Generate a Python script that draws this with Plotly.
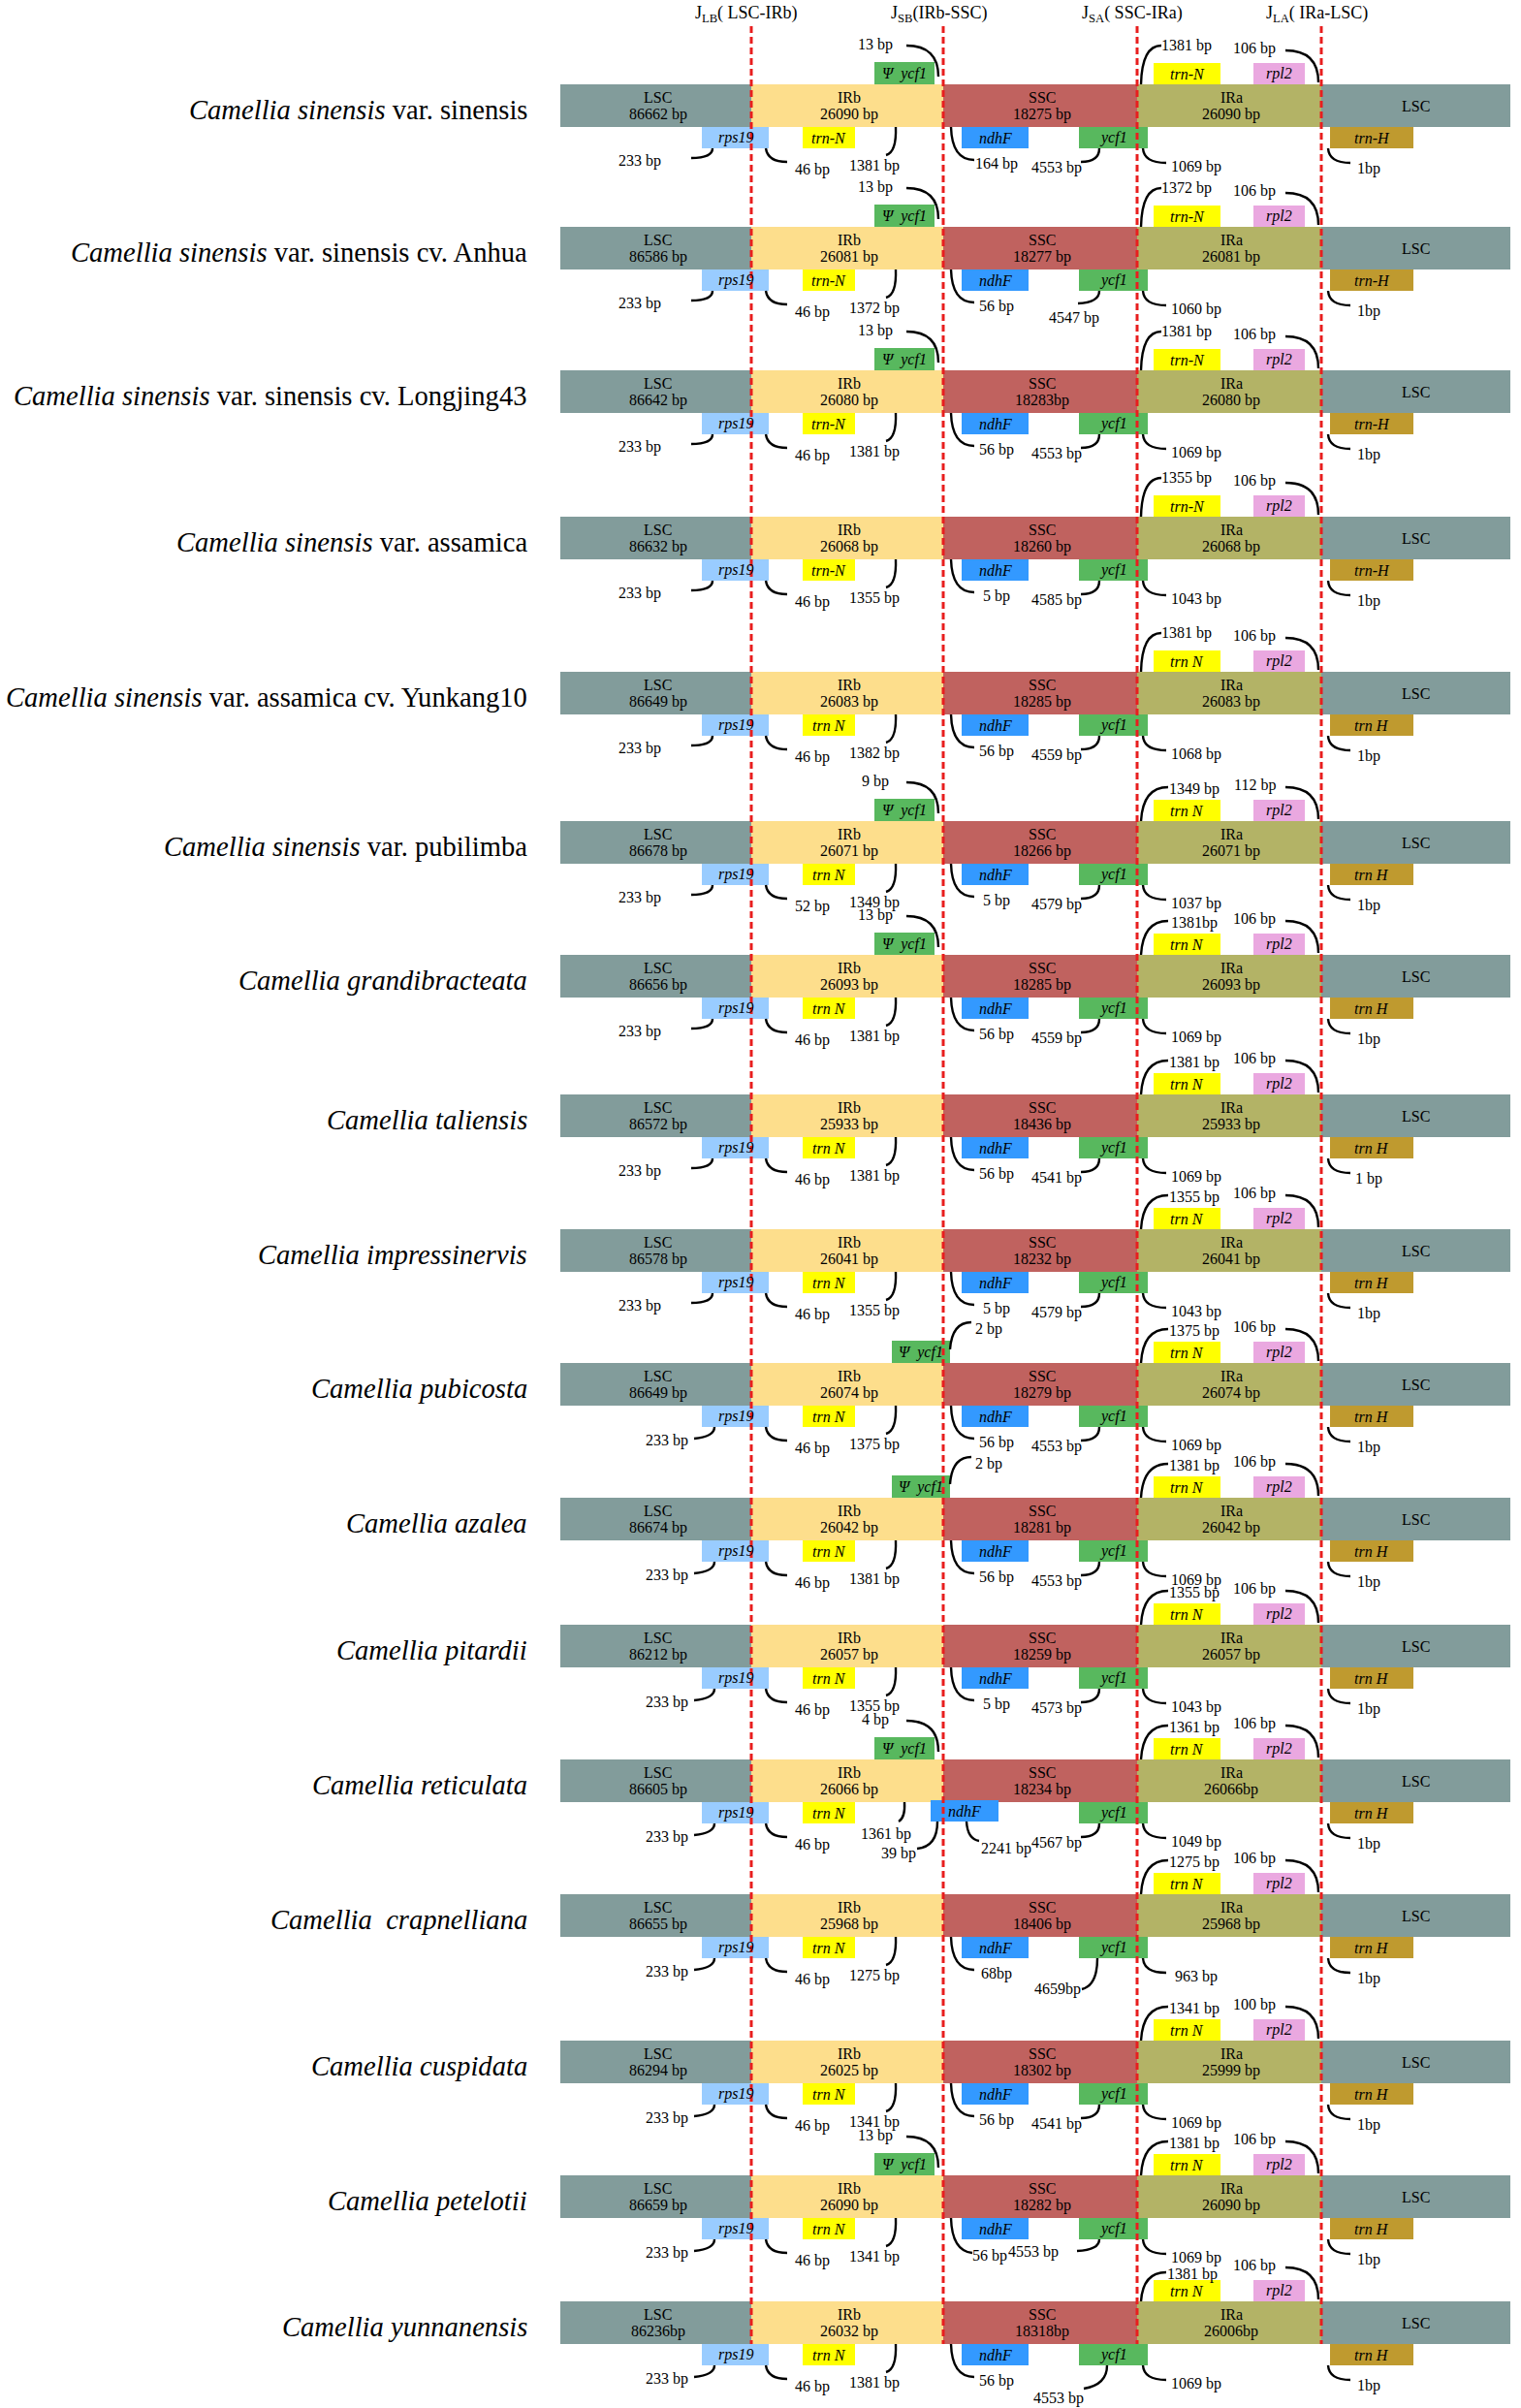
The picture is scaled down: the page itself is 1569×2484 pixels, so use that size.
import plotly.graph_objects as go

# ---------------- data ----------------
species = [
    "<i>Camellia sinensis</i> var. sinensis",
    "<i>Camellia sinensis</i> var. sinensis cv. Anhua",
    "<i>Camellia sinensis</i> var. sinensis cv. Longjing43",
    "<i>Camellia sinensis</i> var. assamica",
    "<i>Camellia sinensis</i> var. assamica cv. Yunkang10",
    "<i>Camellia sinensis</i> var. pubilimba",
    "<i>Camellia grandibracteata</i>",
    "<i>Camellia taliensis</i>",
    "<i>Camellia impressinervis</i>",
    "<i>Camellia pubicosta</i>",
    "<i>Camellia azalea</i>",
    "<i>Camellia pitardii</i>",
    "<i>Camellia reticulata</i>",
    "<i>Camellia\u00a0 crapnelliana</i>",
    "<i>Camellia cuspidata</i>",
    "<i>Camellia petelotii</i>",
    "<i>Camellia yunnanensis</i>",
]
lsc_bp = [86662, 86586, 86642, 86632, 86649, 86678, 86656, 86572, 86578, 86649, 86674, 86212, 86605, 86655, 86294, 86659, 86236]
irb_bp = [26090, 26081, 26080, 26068, 26083, 26071, 26093, 25933, 26041, 26074, 26042, 26057, 26066, 25968, 26025, 26090, 26032]
ssc_bp = [18275, 18277, 18283, 18260, 18285, 18266, 18285, 18436, 18232, 18279, 18281, 18259, 18234, 18406, 18302, 18282, 18318]
ira_bp = [26090, 26081, 26080, 26068, 26083, 26071, 26093, 25933, 26041, 26074, 26042, 26057, 26066, 25968, 25999, 26090, 26006]

psi_ycf1_bp = [13, 13, 13, None, None, 9, 13, None, None, 2, 2, None, 4, None, None, 13, None]
trnN_top_bp = [1381, 1372, 1381, 1355, 1381, 1349, 1381, 1381, 1355, 1375, 1381, 1355, 1361, 1275, 1341, 1381, 1381]
rpl2_bp = [106, 106, 106, 106, 106, 112, 106, 106, 106, 106, 106, 106, 106, 106, 100, 106, 106]
rps19_lsc_bp = [233, 233, 233, 233, 233, 233, 233, 233, 233, 233, 233, 233, 233, 233, 233, 233, 233]
rps19_ir_bp = [46, 46, 46, 46, 46, 52, 46, 46, 46, 46, 46, 46, 46, 46, 46, 46, 46]
trnN_low_bp = [1381, 1372, 1381, 1355, 1382, 1349, 1381, 1381, 1355, 1375, 1381, 1355, 1361, 1275, 1341, 1341, 1381]
ndhF_bp = [164, 56, 56, 5, 56, 5, 56, 56, 5, 56, 56, 5, 39, 68, 56, 56, 56]
ndhF_ssc_bp = [None, None, None, None, None, None, None, None, None, None, None, None, 2241, None, None, None, None]
ycf1_ssc_bp = [4553, 4547, 4553, 4585, 4559, 4579, 4559, 4541, 4579, 4553, 4553, 4573, 4567, 4659, 4541, 4553, 4553]
ycf1_ira_bp = [1069, 1060, 1069, 1043, 1068, 1037, 1069, 1069, 1043, 1069, 1069, 1043, 1049, 963, 1069, 1069, 1069]
trnH_bp = [1, 1, 1, 1, 1, 1, 1, 1, 1, 1, 1, 1, 1, 1, 1, 1, 1]

trnN_name = ["trn-N"] * 4 + ["trn N"] * 13
trnH_name = ["trn-H"] * 4 + ["trn H"] * 13
junction_labels = ["J<sub>LB</sub>( LSC-IRb)", "J<sub>SB</sub>(IRb-SSC)",
                   "J<sub>SA</sub>( SSC-IRa)", "J<sub>LA</sub>( IRa-LSC)"]

# ---------------- layout / style ----------------
W, H = 1569, 2484
FONT = "Liberation Serif, Times New Roman, serif"
C_LSC, C_IRB, C_SSC, C_IRA = "#829C9B", "#FDDE8C", "#C0625F", "#B3B366"
C_RPS19, C_TRNN, C_NDHF, C_YCF1 = "#99CCFF", "#FFFF00", "#3399FF", "#58B85E"
C_RPL2, C_TRNH, C_RED = "#EAA8E0", "#BF9A2F", "#E81E1E"

row_y = [109, 256, 404, 555, 715, 869, 1007, 1151, 1290, 1428, 1567, 1698, 1837, 1976, 2127, 2266, 2396]
JX = [775, 973, 1173, 1363]
BAR_X0, BAR_X1, BAR_H = 578, 1558, 44

BOX = {
    'psi_in': (902, 964, -45, -22),
    'psi_cross': (920, 980, -45, -22),
    'trnN_top': (1190, 1259, -44, -22),
    'rpl2': (1293, 1346, -44, -22),
    'rps19': (724, 793, 22, 44),
    'trnN_low': (828, 882, 22, 44),
    'ndhF': (992, 1061, 22, 44),
    'ndhF_cross': (960, 1030, 20, 42),
    'ycf1': (1113, 1184, 22, 44),
    'trnH': (1372, 1458, 22, 44),
}
T = {
    'psi_in': dict(path=[(968, -30), (968, -62), (935, -62)], text=(903, -63)),
    'psi_cross': dict(path=[(980, -36), (982, -64), (1002, -64)], text=(1020, -57)),
    'trnN_top': dict(path=[(1177, -22), (1178, -62), (1198, -62)], text=(1224, -62)),
    'rpl2': dict(path=[(1360, -24), (1360, -57), (1326, -57)], text=(1294, -59)),
    'rps19_l': dict(path=[(735, 44), (735, 54), (713, 54)], text=(660, 57)),
    'rps19_r': dict(path=[(790, 44), (792, 58), (812, 58)], text=(838, 66)),
    'trnN_low': dict(path=[(924, 22), (925, 48), (914, 51)], text=(902, 62)),
    'ndhF': dict(path=[(981, 22), (982, 56), (1005, 56)], text=(1028, 60)),
    'ndhF_39': dict(path=[(967, 42), (967, 68), (946, 70)], text=(927, 75)),
    'ndhF_ssc': dict(path=[(997, 42), (998, 60), (1010, 62)], text=(1038, 70)),
    'ycf1_l': dict(path=[(1134, 44), (1134, 58), (1115, 58)], text=(1090, 64)),
    'ycf1_r': dict(path=[(1179, 44), (1180, 59), (1203, 59)], text=(1234, 63)),
    'trnH': dict(path=[(1370, 44), (1371, 59), (1393, 59)], text=(1412, 65)),
}
OVR = {}
for i in range(9, 17):
    OVR[(i, 'rps19_l')] = dict(path=[(737, 44), (737, 54), (716, 56)], text=(688, 58))
for i in range(5, 17):
    OVR[(i, 'trnN_top')] = dict(path=[(1177, -22), (1179, -57), (1205, -57)], text=(1232, -55))
OVR[(16, 'trnN_top')] = dict(path=[(1177, -22), (1179, -52), (1203, -52)], text=(1230, -50))
OVR[(1, 'ycf1_l')] = dict(path=[(1134, 44), (1134, 56), (1112, 57)], text=(1108, 72))
OVR[(13, 'ycf1_l')] = dict(path=[(1132, 44), (1132, 72), (1116, 76)], text=(1091, 76))
OVR[(16, 'ycf1_l')] = dict(path=[(1142, 44), (1142, 64), (1118, 68)], text=(1092, 78))
OVR[(15, 'ycf1_l')] = dict(path=[(1134, 44), (1134, 55), (1111, 56)], text=(1066, 57))
OVR[(15, 'ndhF')] = dict(path=[(981, 22), (982, 56), (1003, 58)], text=(1021, 61))
OVR[(12, 'trnN_low')] = dict(path=[(933, 22), (934, 38), (927, 42)], text=(914, 55))

NO_SPACE = {(2, 'ssc'), (12, 'ira'), (16, 'lsc'), (16, 'ssc'), (16, 'ira'),
            (6, 'trnN_top'), (13, 'ndhF'), (13, 'ycf1_l')}


def fmt(v, row, key):
    if key == 'trnH':
        return f"{v} bp" if row == 7 else f"{v}bp"
    return f"{v}bp" if (row, key) in NO_SPACE else f"{v} bp"


shapes, annotations, top_shapes = [], [], []


def rect(x0, x1, y0, y1, color):
    shapes.append(dict(type='rect', xref='x', yref='y', x0=x0, x1=x1, y0=y0, y1=y1,
                       fillcolor=color, line=dict(width=0), layer='above'))


def text(x, y, s, size, italic=False, anchor='center'):
    annotations.append(dict(x=x, y=y, xref='x', yref='y', text=(f"<i>{s}</i>" if italic else s),
                            showarrow=False, xanchor=anchor, yanchor='middle',
                            font=dict(family=FONT, size=size, color='black')))


def gene(key, yc, color, label):
    x0, x1, y0, y1 = BOX[key]
    rect(x0, x1, yc + y0, yc + y1, color)
    text((x0 + x1) / 2, yc + (y0 + y1) / 2, label, 16, italic=True)


def note(i, key, label):
    spec = OVR.get((i, key), T[key])
    yc = row_y[i]
    (sx, sy), (cx, cy), (ex, ey) = spec['path']
    top_shapes.append(dict(type='path', xref='x', yref='y',
                           path=f"M {sx},{yc + sy} Q {cx},{yc + cy} {ex},{yc + ey}",
                           line=dict(color='black', width=2.4), layer='above'))
    tx, ty = spec['text']
    text(tx, yc + ty, label, 16)


for i in range(len(species)):
    yc = row_y[i]
    text(546, yc + 4, species[i], 28.6, anchor='right')
    segs = [(BAR_X0, JX[0], C_LSC), (JX[0], JX[1], C_IRB), (JX[1], JX[2], C_SSC),
            (JX[2], JX[3], C_IRA), (JX[3], BAR_X1, C_LSC)]
    for x0, x1, c in segs:
        rect(x0, x1, yc - BAR_H / 2, yc + BAR_H / 2, c)
    for (x0, x1, _), name, val, key in zip(segs[:4], ["LSC", "IRb", "SSC", "IRa"],
                                           [lsc_bp[i], irb_bp[i], ssc_bp[i], ira_bp[i]],
                                           ['lsc', 'irb', 'ssc', 'ira']):
        cxm = (x0 + x1) / 2 + 2
        text(cxm, yc - 9, name, 16)
        text(cxm, yc + 9, fmt(val, i, key), 16)
    text((JX[3] + BAR_X1) / 2, yc, "LSC", 16)

    # genes above bar
    if psi_ycf1_bp[i] is not None:
        k = 'psi_cross' if psi_ycf1_bp[i] <= 2 else 'psi_in'
        gene(k, yc, C_YCF1, "\u03a8  ycf1")
        note(i, k, fmt(psi_ycf1_bp[i], i, k))
    gene('trnN_top', yc, C_TRNN, trnN_name[i])
    note(i, 'trnN_top', fmt(trnN_top_bp[i], i, 'trnN_top'))
    gene('rpl2', yc, C_RPL2, "rpl2")
    note(i, 'rpl2', fmt(rpl2_bp[i], i, 'rpl2'))

    # genes below bar
    gene('rps19', yc, C_RPS19, "rps19")
    note(i, 'rps19_l', fmt(rps19_lsc_bp[i], i, 'rps19_l'))
    note(i, 'rps19_r', fmt(rps19_ir_bp[i], i, 'rps19_r'))
    gene('trnN_low', yc, C_TRNN, trnN_name[i])
    note(i, 'trnN_low', fmt(trnN_low_bp[i], i, 'trnN_low'))
    if ndhF_ssc_bp[i] is not None:
        gene('ndhF_cross', yc, C_NDHF, "ndhF")
        note(i, 'ndhF_39', fmt(ndhF_bp[i], i, 'ndhF'))
        note(i, 'ndhF_ssc', fmt(ndhF_ssc_bp[i], i, 'ndhF_ssc'))
    else:
        gene('ndhF', yc, C_NDHF, "ndhF")
        note(i, 'ndhF', fmt(ndhF_bp[i], i, 'ndhF'))
    gene('ycf1', yc, C_YCF1, "ycf1")
    note(i, 'ycf1_l', fmt(ycf1_ssc_bp[i], i, 'ycf1_l'))
    note(i, 'ycf1_r', fmt(ycf1_ira_bp[i], i, 'ycf1_r'))
    gene('trnH', yc, C_TRNH, trnH_name[i])
    note(i, 'trnH', fmt(trnH_bp[i], i, 'trnH'))

# junction lines + headers
for jx, lab in zip(JX, junction_labels):
    top_shapes.append(dict(type='line', xref='x', yref='y', x0=jx, x1=jx, y0=27, y1=2418,
                           line=dict(color=C_RED, width=3, dash='7px,4px'), layer='above'))
    text(jx - 5, 14, lab, 18)

fig = go.Figure()
fig.add_trace(go.Scatter(x=[0], y=[0], mode='markers', marker=dict(opacity=0),
                         hoverinfo='skip', showlegend=False))
fig.update_layout(
    width=W, height=H, margin=dict(l=0, r=0, t=0, b=0, pad=0),
    paper_bgcolor='white', plot_bgcolor='white',
    xaxis=dict(range=[0, W], visible=False, showgrid=False, zeroline=False, fixedrange=True),
    yaxis=dict(range=[H, 0], visible=False, showgrid=False, zeroline=False, fixedrange=True),
    shapes=shapes + top_shapes, annotations=annotations, showlegend=False,
)
fig.write_html("out.html", config={"displayModeBar": False},
               post_script="document.body.style.margin='0';document.body.style.overflow='hidden';")
